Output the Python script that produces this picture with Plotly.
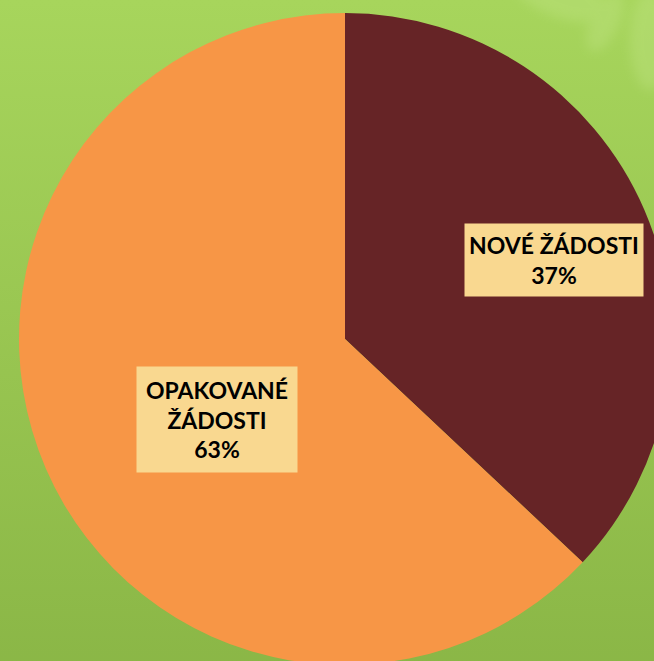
import base64
import plotly.graph_objects as go

# Data
categories = ["NOVÉ ŽÁDOSTI", "OPAKOVANÉ ŽÁDOSTI"]
values = [37, 63]
label_lines = [["NOVÉ ŽÁDOSTI"], ["OPAKOVANÉ", "ŽÁDOSTI"]]

slice_colors = ["#662426", "#F79646"]
box_color = "#F9D890"

W, H = 680, 680

svg = f"""<svg xmlns='http://www.w3.org/2000/svg' width='{W}' height='{H}' viewBox='0 0 {W} {H}'>
<defs>
<linearGradient id='g' x1='0' y1='0' x2='0' y2='1'>
<stop offset='0' stop-color='#A7D55C'/>
<stop offset='1' stop-color='#8AB646'/>
</linearGradient>
<filter id='b'><feGaussianBlur stdDeviation='6'/></filter>
</defs>
<rect width='{W}' height='{H}' fill='url(#g)'/>
<g filter='url(#b)' fill='#BDE27F' opacity='0.45'>
<ellipse cx='560' cy='-5' rx='50' ry='22' transform='rotate(20 560 -5)'/>
<ellipse cx='605' cy='22' rx='14' ry='32' transform='rotate(25 605 22)'/>
<ellipse cx='650' cy='40' rx='20' ry='50'/>
</g>
</svg>"""
src = "data:image/svg+xml;base64," + base64.b64encode(svg.encode()).decode()

cx, cy, r = 345, 339, 326

fig = go.Figure(
    go.Pie(
        labels=categories,
        values=values,
        sort=False,
        direction="clockwise",
        rotation=0,
        marker=dict(colors=slice_colors, line=dict(width=0)),
        textinfo="none",
        hoverinfo="label+percent",
        showlegend=False,
        domain=dict(x=[(cx - r) / W, (cx + r) / W], y=[(H - cy - r) / H, (H - cy + r) / H]),
    )
)

total = sum(values)
ann_pos = [(554, 260, 168, 62), (217, 419, 150, 95)]
for lines, v, (ax, ay, aw, ah) in zip(label_lines, values, ann_pos):
    txt = "<br>".join(lines + [f"{round(100 * v / total)}%"])
    fig.add_annotation(
        x=ax / W, y=1 - ay / H, xref="paper", yref="paper",
        xanchor="center", yanchor="middle",
        text=txt, showarrow=False,
        font=dict(family="Lato", size=23, color="#000000", weight="bold"),
        bgcolor=box_color, width=aw, height=ah, borderpad=5, align="center",
    )

fig.add_layout_image(
    source=src, xref="paper", yref="paper", x=0, y=1, sizex=1, sizey=1,
    sizing="stretch", layer="below", xanchor="left", yanchor="top",
)

fig.update_layout(
    width=W, height=H,
    margin=dict(l=0, r=0, t=0, b=0),
    paper_bgcolor="#98C551",
    plot_bgcolor="rgba(0,0,0,0)",
)

fig.write_html(
    "out.html",
    config={"displayModeBar": False},
    post_script="document.body.style.margin='0';document.body.style.overflow='hidden';document.documentElement.style.overflow='hidden';",
)
